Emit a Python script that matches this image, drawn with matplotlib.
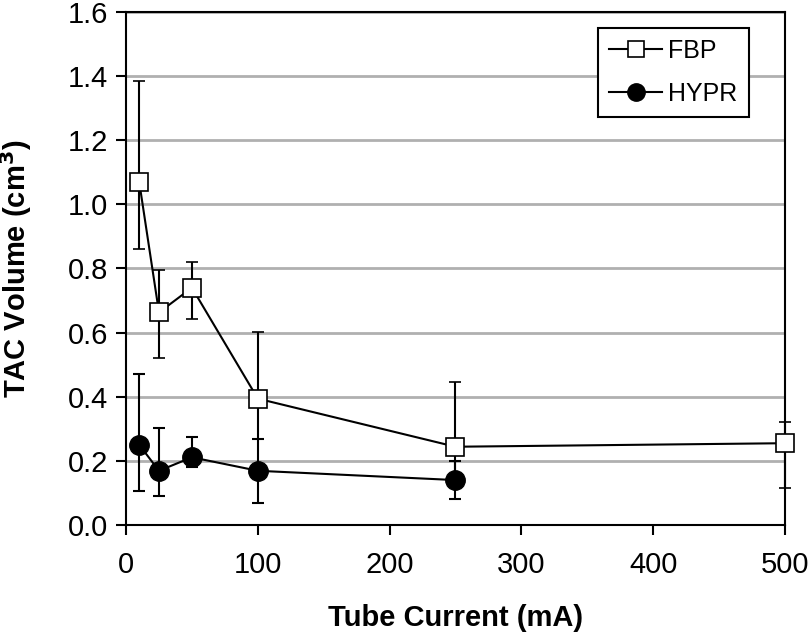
import numpy as np
import matplotlib.pyplot as plt
from matplotlib.lines import Line2D

plt.rcParams['font.family'] = ['Liberation Sans', 'DejaVu Sans']

current_fbp = [10, 25, 50, 100, 250, 500]
fbp = [1.07, 0.663, 0.740, 0.394, 0.244, 0.255]
fbp_lo = [0.861, 0.52, 0.643, 0.267, 0.15, 0.116]
fbp_hi = [1.385, 0.795, 0.821, 0.603, 0.445, 0.32]

current_hypr = [10, 25, 50, 100, 250]
hypr = [0.250, 0.169, 0.211, 0.169, 0.140]
hypr_lo = [0.106, 0.09, 0.18, 0.07, 0.081]
hypr_hi = [0.471, 0.303, 0.274, 0.267, 0.20]

fig = plt.figure(figsize=(8.1, 6.34), dpi=100)
ax = fig.add_axes([0.1556, 0.172, 0.8134, 0.809])

fbp = np.array(fbp)
hypr = np.array(hypr)
err_f = [fbp - np.array(fbp_lo), np.array(fbp_hi) - fbp]
err_h = [hypr - np.array(hypr_lo), np.array(hypr_hi) - hypr]

ax.errorbar(current_fbp, fbp, yerr=err_f, color='black', lw=1.5, marker='s', ms=13,
            mfc='white', mec='black', mew=1.2, capsize=4, capthick=1.5, elinewidth=1.5,
            clip_on=False, zorder=3)
ax.errorbar(current_hypr, hypr, yerr=err_h, color='black', lw=1.5, marker='o', ms=14,
            mfc='black', mec='black', capsize=4, capthick=1.5, elinewidth=1.5,
            clip_on=False, zorder=4)

ax.set_xlim(0, 500)
ax.set_ylim(0, 1.6)
ax.set_xticks([0, 100, 200, 300, 400, 500])
ax.set_yticks(np.arange(0, 1.61, 0.2))
ax.set_yticklabels(['%.1f' % v for v in np.arange(0, 1.61, 0.2)])
ax.yaxis.grid(True, color='#b0b0b0', lw=2)
ax.set_axisbelow(True)
for s in ax.spines.values():
    s.set_linewidth(1.5)
ax.tick_params(direction='out', length=7, width=1.5, labelsize=21)
ax.tick_params(axis='y', pad=6)
ax.tick_params(axis='x', pad=12)

ax.set_xlabel('Tube Current (mA)', fontsize=21, fontweight='bold', labelpad=18)
ax.set_ylabel('TAC Volume (cm$^\\mathbf{3}$)', fontsize=21, fontweight='bold', labelpad=24)

handles = [
    Line2D([], [], color='black', lw=1.5, marker='s', ms=12, mfc='white', mec='black', mew=1.2),
    Line2D([], [], color='black', lw=1.5, marker='o', ms=12.5, mfc='black', mec='black'),
]
leg = ax.legend(handles, ['FBP', 'HYPR'], loc='upper right', bbox_to_anchor=(0.945, 0.969),
                fontsize=18, fancybox=False, edgecolor='black', framealpha=1, borderpad=0.45,
                handlelength=2.1, handletextpad=0.25, labelspacing=0.75, borderaxespad=0)
leg.get_frame().set_linewidth(1.5)

fig.savefig('out.png', dpi=100)
